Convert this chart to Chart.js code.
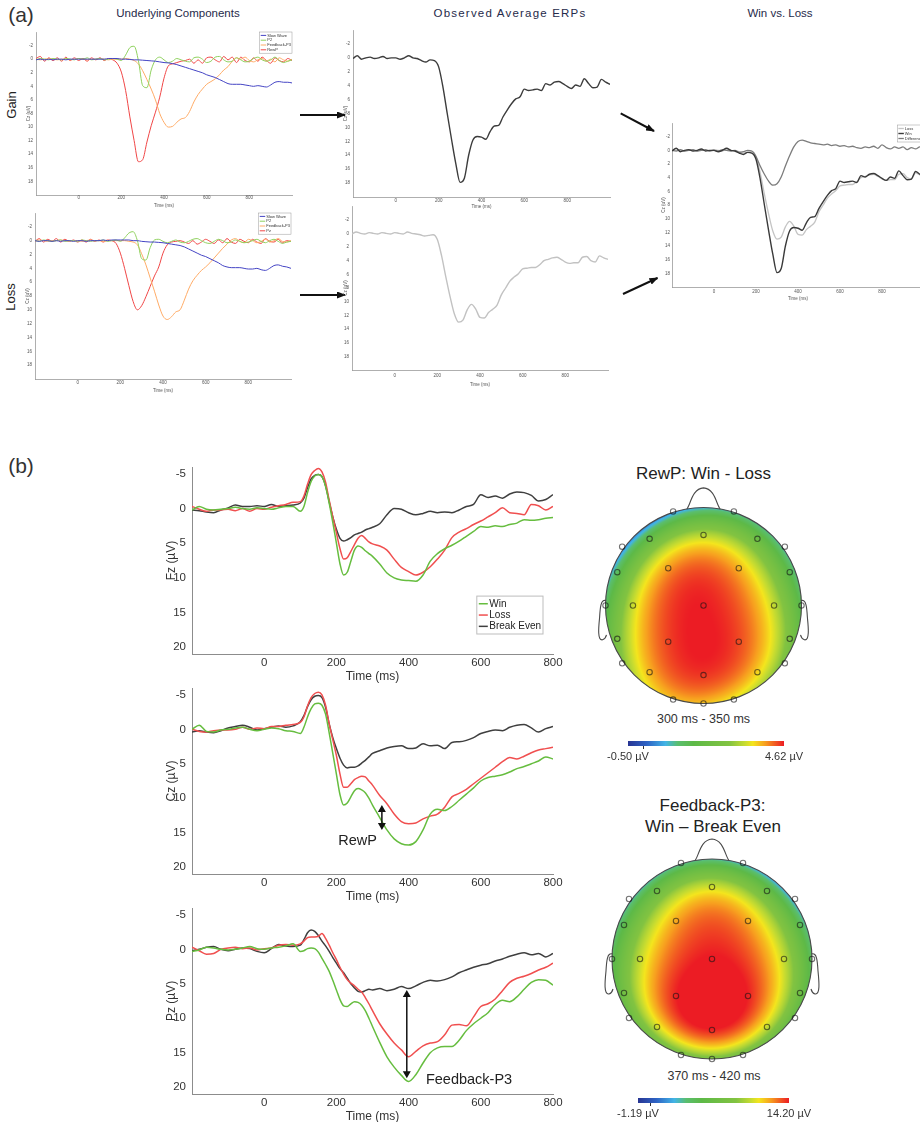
<!DOCTYPE html>
<html>
<head>
<meta charset="utf-8">
<title>Reward positivity and feedback-P3</title>
<script src="https://cdn.jsdelivr.net/npm/chart.js@4.4.1/dist/chart.umd.min.js"></script>
<style>
  html, body { margin: 0; padding: 0; width: 920px; height: 1122px; overflow: hidden; background: #fff; }
  body { position: relative; font-family: 'Liberation Sans', Arial, sans-serif; color: #222; }
  canvas { position: absolute; }
  .lbl { position: absolute; white-space: nowrap; transform: translate(-50%, -50%); line-height: 1; }
  .rot { transform: translate(-50%, -50%) rotate(-90deg); }
  .panel { font-family: 'Liberation Sans Narrow', 'Liberation Sans', sans-serif; font-size: 21px; color: #333; }
  .head { font-size: 11.5px; color: #262a4a; }
  .topo { font-size: 17px; color: #222; }
  .win { font-size: 12.5px; color: #333; }
</style>
</head>
<body>
<div class="lbl panel" style="left:21px;top:14px">(a)</div>
<div class="lbl head" style="left:178px;top:14px">Underlying Components</div>
<div class="lbl head" style="left:510px;top:14px;letter-spacing:1.2px">Observed Average ERPs</div>
<div class="lbl head" style="left:780px;top:14px">Win vs. Loss</div>
<div class="lbl rot" style="left:11px;top:105px;font-size:13px">Gain</div>
<div class="lbl rot" style="left:10px;top:297px;font-size:13px">Loss</div>
<div class="lbl panel" style="left:21px;top:465px">(b)</div>
<div class="lbl topo" style="left:703.5px;top:473px">RewP: Win - Loss</div>
<div class="lbl win" style="left:703.5px;top:719px">300 ms - 350 ms</div>
<div class="lbl topo" style="left:712.5px;top:805px">Feedback-P3:</div>
<div class="lbl topo" style="left:713px;top:826px">Win – Break Even</div>
<div class="lbl win" style="left:714px;top:1076px">370 ms - 420 ms</div>

<svg width="920" height="420" style="position:absolute;left:0;top:0">
  <defs>
    <marker id="ah" markerWidth="9" markerHeight="7" refX="8" refY="3.5" orient="auto" markerUnits="userSpaceOnUse">
      <path d="M0,0 L9,3.5 L0,7 z" fill="#111"/>
    </marker>
  </defs>
  <line x1="300" y1="115" x2="345" y2="115" stroke="#111" stroke-width="2" marker-end="url(#ah)"/>
  <line x1="300" y1="295" x2="345" y2="295" stroke="#111" stroke-width="2" marker-end="url(#ah)"/>
  <line x1="620.7" y1="113.3" x2="654" y2="131" stroke="#111" stroke-width="2" marker-end="url(#ah)"/>
  <line x1="623" y1="294" x2="657.5" y2="278" stroke="#111" stroke-width="2" marker-end="url(#ah)"/>
</svg>

<canvas id="a1"></canvas>
<canvas id="a2"></canvas>
<canvas id="a3"></canvas>
<canvas id="a4"></canvas>
<canvas id="a5"></canvas>
<canvas id="b1"></canvas>
<canvas id="b2"></canvas>
<canvas id="b3"></canvas>
<canvas id="topo1"></canvas>
<canvas id="topo2"></canvas>
<canvas id="cbar1"></canvas>
<canvas id="cbar2"></canvas>

<script>
// ---- time bases (ms) ---------------------------------------------------
const tA = [-200,-180,-160,-140,-120,-100,-80,-60,-40,-20,
  0,20,40,60,80,100,120,140,160,180,
  200,220,240,260,280,300,320,340,360,380,
  400,420,440,460,480,500,520,540,560,580,
  600,620,640,660,680,700,720,740,760,780,
  800,820,840,860,880,900,920,940,960,980,
  1000];
const tB = [-200,-180,-160,-140,-120,-100,-80,-60,-40,-20,
  0,20,40,60,80,100,
  110,120,130,140,150,160,170,180,190,200,
  210,220,230,240,250,260,270,280,290,300,
  320,340,360,380,400,420,440,460,480,500,
  520,540,560,580,600,620,640,660,680,700,
  720,740,760,780,800];

const tickTimeA = [0, 200, 400, 600, 800];
const tickVoltA = [-2, 0, 2, 4, 6, 8, 10, 12, 14, 16, 18];
const tickTimeB = [0, 200, 400, 600, 800];
const tickVoltB = [-5, 0, 5, 10, 15, 20];

// ---- simulated components, gain ----------------------------------------
const gainSlow = [0.1,0.0,0.1,0.0,0.1,0.0,0.0,0.1,0.0,0.0,
  0.0,0.0,0.0,0.0,0.0,0.0,0.0,-0.1,-0.1,-0.1,
  0.0,0.0,0.05,0.1,0.1,0.15,0.2,0.25,0.3,0.4,
  0.5,0.55,0.65,0.8,1.0,1.2,1.4,1.6,1.8,2.0,
  2.3,2.5,2.7,3.0,3.3,3.6,3.7,3.7,3.7,3.8,
  3.9,4.0,3.9,4.0,4.1,3.8,3.4,3.3,3.4,3.4,
  3.5];
const gainP2 = [0.1,-0.1,0.0,0.1,-0.1,0.0,0.1,-0.1,0.0,0.1,
  -0.1,0.0,-0.2,0.1,0.0,-0.1,0.1,0.0,-0.1,0.0,
  0.2,-0.6,-1.7,-1.9,0.2,3.9,4.2,1.6,0.1,-0.3,
  0.1,0.5,0.3,-0.1,0.1,0.3,0.4,-0.2,-0.3,0.0,
  0.5,0.3,-0.3,-0.4,0.1,0.4,0.3,-0.2,0.1,0.4,
  0.3,-0.1,-0.3,0.1,0.3,0.1,-0.3,0.2,0.5,0.3,
  0.1];
const gainFbP3 = [0.0,0.1,0.0,-0.1,0.0,0.1,0.0,0.0,0.1,0.0,
  -0.1,0.0,0.1,0.0,0.0,-0.1,0.0,0.1,0.0,0.0,
  0.0,-0.1,0.0,0.2,0.7,1.7,3.0,4.4,6.0,8.0,
  9.3,10.0,9.9,9.3,8.8,8.6,7.7,6.3,5.2,4.4,
  3.7,3.3,2.9,2.3,1.6,1.1,0.3,-0.2,0.0,-0.3,
  0.2,0.4,0.1,-0.1,0.3,0.0,0.4,-0.2,0.1,0.3,
  0.0];
const gainRewP = [-0.1,-0.4,0.3,-0.2,0.2,-0.2,0.3,-0.3,0.2,-0.2,
  0.2,-0.1,0.3,-0.2,0.1,-0.2,0.2,-0.1,0.1,0.6,
  1.9,4.6,8.5,12.0,15.1,14.8,12.2,9.8,7.8,5.6,
  2.8,1.0,0.7,0.5,0.3,0.2,0.0,0.6,0.1,0.6,
  -0.2,-0.3,0.1,0.4,-0.4,0.1,-0.3,0.5,-0.3,0.2,
  0.4,-0.2,0.3,-0.3,0.2,0.6,-0.2,0.2,0.4,-0.1,
  0.2];

// ---- simulated components, loss ----------------------------------------
const lossSlow = [0.0,0.1,0.0,0.0,0.1,0.0,0.1,0.0,0.0,0.1,
  0.0,0.0,0.1,0.0,0.0,0.0,-0.1,0.0,-0.1,-0.1,
  -0.1,-0.1,-0.1,0.0,0.0,0.1,0.15,0.2,0.2,0.25,
  0.3,0.4,0.5,0.6,0.7,0.9,1.2,1.5,1.8,2.1,
  2.3,2.6,2.9,3.2,3.6,3.8,3.9,3.9,3.9,4.0,
  4.1,4.1,4.0,4.2,4.3,4.0,3.6,3.5,3.7,3.8,
  4.0];
const lossP2 = [0.0,0.1,-0.1,0.0,0.1,0.0,-0.1,0.1,0.0,0.0,
  0.1,-0.1,0.0,0.1,0.0,0.0,-0.1,0.1,0.0,-0.1,
  0.1,-0.4,-1.1,-1.3,0.0,2.6,2.8,1.0,-0.1,-0.2,
  0.1,0.3,0.1,-0.1,0.2,0.3,0.1,-0.2,-0.3,0.0,
  0.3,0.4,0.1,-0.2,0.0,0.3,0.2,-0.1,0.1,0.3,
  0.2,0.0,-0.2,0.1,0.3,0.0,-0.2,0.1,0.4,0.2,
  0.1];
const lossFbP3 = [0.0,-0.1,0.0,0.1,0.0,0.0,-0.1,0.0,0.1,0.0,
  0.0,0.1,0.0,-0.1,0.0,0.0,0.1,0.0,0.0,0.0,
  0.0,0.0,0.1,0.2,0.6,1.9,3.5,5.4,7.3,9.3,
  10.9,11.4,11.0,10.3,10.0,8.6,7.0,5.8,5.0,4.3,
  3.8,3.2,2.5,1.8,1.1,0.5,-0.1,-0.3,0.1,0.3,
  -0.2,0.0,0.3,0.1,-0.2,0.2,0.0,-0.3,0.1,0.2,
  0.0];
const lossPz = [0.1,-0.3,0.2,-0.2,0.1,-0.3,0.2,-0.2,0.1,-0.1,
  0.2,-0.1,0.2,-0.2,0.1,-0.1,0.2,-0.1,0.0,0.4,
  1.8,4.0,6.5,8.8,10.0,9.4,8.1,6.6,5.1,3.8,
  1.8,0.6,0.2,0.1,0.0,0.2,0.4,0.0,0.5,0.2,
  -0.2,0.1,0.4,-0.1,0.3,-0.3,0.2,0.4,-0.2,0.1,
  0.3,-0.2,0.2,0.4,-0.3,0.1,0.2,-0.2,0.3,0.0,
  0.1];

// ---- observed averages at Cz -------------------------------------------
const avgWin = [0.1,-0.3,0.2,0.0,-0.1,0.1,0.0,-0.2,0.1,0.0,
  0.0,0.2,0.0,-0.3,0.0,0.1,0.4,0.6,0.3,0.4,
  1.3,4.2,8.0,11.7,15.2,17.9,17.3,14.0,11.8,11.3,
  11.4,11.7,10.6,9.8,9.7,8.5,7.5,6.6,5.9,5.6,
  4.5,4.7,4.6,4.5,4.7,3.7,3.9,3.5,3.4,3.7,
  4.1,4.4,3.9,4.1,3.0,3.7,4.3,4.2,3.1,3.5,
  3.8];
const avgLoss = [0.1,-0.2,0.0,0.1,-0.1,0.0,0.1,-0.1,0.0,0.1,
  -0.1,0.0,0.1,-0.2,0.0,0.1,0.2,0.4,0.3,0.2,
  0.9,3.3,6.4,9.3,11.8,13.0,12.7,11.2,10.4,11.1,
  12.3,12.4,11.6,11.1,10.5,9.0,8.0,7.0,6.4,5.9,
  5.2,5.1,5.0,5.0,4.6,4.0,3.8,3.6,3.5,3.8,
  4.2,4.4,4.3,4.3,3.5,3.4,4.0,4.2,3.3,3.6,
  3.8];
const avgDiff = [0.0,0.1,-0.1,0.1,0.0,-0.1,0.1,0.0,-0.1,0.1,
  0.0,0.1,-0.1,0.0,0.1,0.0,0.3,0.2,0.0,0.1,
  0.9,2.3,3.5,4.5,5.1,4.9,3.9,2.3,0.8,-0.5,
  -1.3,-1.5,-1.3,-1.1,-1.0,-0.9,-0.8,-0.9,-0.7,-0.8,
  -0.6,-0.7,-0.5,-0.6,-0.4,-0.3,-0.5,-0.4,-0.6,-0.3,
  -0.8,-0.4,-0.2,-0.5,-0.3,-0.5,-0.1,-0.4,-0.2,-0.5,
  -0.3];

// ---- grand averages, panel b -------------------------------------------
const fzWin = [0.2,-0.3,0.1,0.2,0.1,0.0,-0.2,0.0,0.1,-0.1,
  0.0,0.1,-0.1,-0.3,-0.3,0.4,
  -0.3,-2.3,-3.9,-4.7,-4.9,-4.6,-3.2,-0.8,2.0,5.0,
  8.0,9.6,9.2,7.6,6.0,5.4,5.6,6.1,6.5,6.9,
  8.0,9.3,10.0,10.3,10.4,10.5,9.6,7.6,6.5,5.8,
  5.3,4.7,4.0,3.3,2.6,2.7,2.5,2.6,2.3,2.1,
  1.6,1.7,1.6,1.4,1.3];
const fzLoss = [-0.3,0.1,0.4,0.2,0.2,0.1,0.3,0.0,0.4,0.0,
  0.1,-0.2,-0.4,-0.6,-0.9,-1.0,
  -1.8,-3.5,-4.9,-5.5,-5.8,-5.3,-3.8,-1.2,1.2,3.5,
  5.8,7.3,7.1,6.2,5.2,4.3,3.9,4.3,4.8,5.1,
  5.4,6.0,7.3,8.5,9.1,9.6,9.2,8.4,7.3,6.0,
  4.2,3.4,2.9,2.3,1.8,1.2,0.6,-0.1,0.6,0.7,
  0.9,-0.6,-0.4,0.2,-0.3];
const fzEven = [0.2,0.3,0.5,0.6,0.2,-0.1,-0.5,-0.3,-0.3,-0.4,
  -0.3,-0.6,-0.3,-0.4,-0.5,-0.8,
  -1.5,-3.0,-4.3,-4.8,-4.9,-4.6,-3.3,-1.0,1.2,3.0,
  4.3,4.7,4.5,4.2,3.8,3.6,3.4,3.1,2.9,2.7,
  2.2,0.9,0.0,0.1,0.6,0.9,0.7,0.4,0.6,0.5,
  0.6,0.2,-0.3,-0.6,-2.0,-1.6,-1.8,-1.5,-2.1,-2.4,
  -2.3,-1.9,-1.1,-1.3,-2.0];

const czWin = [0.0,-0.6,0.3,0.4,0.1,0.0,-0.2,-0.3,0.0,0.2,
  0.0,-0.2,-0.1,0.2,0.3,0.6,
  -0.3,-1.8,-3.0,-3.7,-3.8,-3.5,-2.2,0.5,3.5,6.5,
  9.5,11.0,10.7,9.8,8.9,8.6,8.8,9.2,10.0,11.0,
  12.8,14.6,15.9,16.6,16.8,16.3,14.6,12.3,11.6,11.8,
  11.2,10.3,9.4,8.5,7.5,7.0,6.8,6.6,6.2,5.7,
  5.4,5.0,4.6,4.0,4.3];
const czLoss = [0.0,0.3,0.4,0.2,0.1,0.1,0.0,-0.3,0.0,-0.2,
  -0.1,-0.4,-0.4,-0.6,-0.7,-1.0,
  -1.8,-3.4,-4.6,-5.2,-5.4,-5.0,-3.5,-0.8,1.5,3.8,
  6.5,8.4,8.4,7.9,7.3,7.0,6.8,6.9,7.5,8.1,
  9.6,10.8,12.3,13.4,13.7,13.6,13.0,12.6,12.3,11.3,
  9.8,9.3,8.7,7.9,7.1,6.3,5.5,4.7,4.1,4.3,
  3.9,3.4,3.0,2.8,2.6];
const czEven = [0.4,0.2,0.4,0.5,0.2,-0.2,-0.4,-0.6,-0.3,0.1,
  -0.1,-0.3,-0.5,-0.3,-0.5,-1.1,
  -2.0,-3.3,-4.3,-4.8,-4.9,-4.6,-3.2,-0.8,1.2,2.8,
  4.2,5.2,5.6,5.5,5.5,5.3,4.9,4.5,4.0,3.5,
  3.1,2.7,2.5,2.4,2.8,2.7,2.1,2.4,2.3,2.8,
  1.9,1.8,1.6,1.2,0.6,0.3,0.1,0.2,-0.3,-0.6,
  -0.7,-0.2,0.4,-0.1,-0.4];

const pzWin = [0.3,0.1,-0.3,-0.2,0.0,0.1,0.0,-0.2,-0.4,-0.1,
  0.0,-0.2,-0.3,-0.5,-0.8,0.3,
  0.2,-0.1,-0.2,-0.1,0.4,1.3,2.2,3.2,4.5,5.9,
  7.3,8.2,8.3,7.9,7.6,7.7,8.1,8.9,10.0,11.2,
  13.5,15.6,17.1,18.3,19.2,18.2,16.5,15.0,14.3,14.1,
  14.1,13.2,11.8,10.8,10.0,9.2,8.0,7.4,7.6,6.9,
  5.8,4.8,4.4,4.5,5.2];
const pzLoss = [-0.3,0.2,0.7,0.6,0.0,-0.2,-0.3,-0.1,-0.2,0.1,
  -0.1,-0.2,-0.6,-0.7,-0.6,-0.8,
  -1.2,-1.7,-1.8,-1.8,-1.9,-2.3,-1.6,-0.6,0.5,1.5,
  2.6,3.6,4.4,4.9,5.3,5.8,6.2,7.0,7.9,8.9,
  10.8,12.3,13.6,14.6,15.6,14.8,14.0,13.6,13.4,12.4,
  11.0,10.9,11.1,9.8,8.3,7.9,7.2,6.0,4.8,4.2,
  3.9,3.5,3.0,2.6,2.0];
const pzEven = [0.2,0.0,-0.3,-0.4,0.0,0.2,0.0,-0.2,-0.1,0.3,
  0.5,-0.1,-0.7,-0.5,-0.4,-0.6,
  -1.4,-2.4,-2.8,-2.6,-2.0,-1.2,-0.5,0.3,1.2,2.0,
  2.8,3.4,4.2,5.0,5.6,6.1,6.2,6.0,5.8,5.9,
  5.7,6.0,5.8,5.4,5.7,5.3,4.8,4.5,4.6,4.4,
  4.0,3.4,3.0,2.6,2.3,2.1,1.7,1.4,1.0,0.7,
  0.5,0.8,0.6,1.1,0.6];

// ---- scalp maps: electrode montage (unit head, +y = posterior) ---------
const montage = [
  [-0.31,-0.96],[0.31,-0.96],
  [-0.55,-0.68],[0,-0.72],[0.55,-0.68],
  [-0.83,-0.60],[0.83,-0.60],
  [-0.88,-0.34],[-0.36,-0.38],[0.36,-0.38],[0.88,-0.34],
  [-1.0,0],[-0.72,0],[0,0],[0.72,0],[1.0,0],
  [-0.88,0.34],[-0.36,0.37],[0.36,0.37],[0.88,0.34],
  [-0.83,0.59],[0.83,0.59],
  [-0.55,0.68],[0,0.71],[0.55,0.68],
  [-0.31,0.96],[0,1.0],[0.31,0.96]
];
const topoRewP = [0.40,0.90, 1.70,3.40,1.80, 0.15,0.80,
  1.40,3.95,3.90,1.55, 1.40,3.45,4.62,3.50,1.50,
  2.20,4.45,4.25,2.30, 2.90,2.60, 4.05,4.45,3.90, 3.70,3.80,3.45];
const topoP3 = [3.00,2.40, 5.74,11.12,5.74, 2.50,1.80,
  4.97,12.35,12.05,4.66, 4.97,10.81,14.20,10.81,4.66,
  5.74,13.89,13.89,5.74, 6.51,5.74, 11.43,13.74,11.12, 7.27,8.04,7.27];
const rangeRewP = [-0.50, 4.62];
const rangeP3 = [-1.19, 14.20];

// ---- shared style -------------------------------------------------------
const FONT = "'Liberation Sans', Arial, sans-serif";
Chart.defaults.font.family = FONT;
Chart.defaults.color = '#333';

const cmapStops = [
  [0.00, [40, 53, 147]],
  [0.12, [45, 98, 196]],
  [0.24, [66, 180, 230]],
  [0.32, [90, 190, 110]],
  [0.42, [93, 185, 71]],
  [0.65, [130, 195, 65]],
  [0.75, [200, 220, 48]],
  [0.80, [244, 229, 29]],
  [0.88, [247, 158, 31]],
  [1.00, [236, 28, 36]]
];
function colorAt(f) {
  f = Math.min(1, Math.max(0, f));
  for (let i = 1; i < cmapStops.length; i++) {
    const [f1, c1] = cmapStops[i];
    if (f <= f1) {
      const [f0, c0] = cmapStops[i - 1];
      const u = (f - f0) / (f1 - f0);
      return c0.map((c, k) => Math.round(c + (c1[k] - c) * u));
    }
  }
  return cmapStops[cmapStops.length - 1][1];
}

// boxed legend inside the plot area, MATLAB style
const boxLegend = {
  id: 'boxLegend',
  afterDatasetsDraw(chart, args, o) {
    if (!o || !o.display) return;
    const {ctx, chartArea: a} = chart;
    const sets = chart.data.datasets;
    ctx.save();
    ctx.font = o.size + 'px ' + FONT;
    const tw = Math.max(...sets.map(d => ctx.measureText(d.label).width));
    const w = o.pad * 2 + o.line + o.gap + tw;
    const h = o.pad * 2 + sets.length * o.row;
    const x = a.right - o.right - w;
    const y = o.bottom != null ? a.bottom - o.bottom - h : a.top + o.top;
    ctx.fillStyle = '#fff';
    ctx.fillRect(x, y, w, h);
    ctx.strokeStyle = o.border;
    ctx.lineWidth = o.borderWidth;
    ctx.strokeRect(x, y, w, h);
    ctx.textBaseline = 'middle';
    sets.forEach((d, i) => {
      const cy = y + o.pad + o.row * (i + 0.5);
      ctx.strokeStyle = d.borderColor;
      ctx.lineWidth = d.borderWidth;
      ctx.beginPath();
      ctx.moveTo(x + o.pad, cy);
      ctx.lineTo(x + o.pad + o.line, cy);
      ctx.stroke();
      ctx.fillStyle = o.color;
      ctx.fillText(d.label, x + o.pad + o.line + o.gap, cy);
    });
    ctx.restore();
  }
};

// double-headed arrow between two conditions plus its component name
const erpArrow = {
  id: 'erpArrow',
  afterDatasetsDraw(chart, args, o) {
    if (!o || !o.text) return;
    const {ctx, scales: {x, y}} = chart;
    const px = x.getPixelForValue(o.at);
    const y1 = y.getPixelForValue(o.from), y2 = y.getPixelForValue(o.to);
    const hl = 7, hw = 4;
    ctx.save();
    ctx.strokeStyle = '#111';
    ctx.fillStyle = '#111';
    ctx.lineWidth = 1.5;
    ctx.beginPath();
    ctx.moveTo(px, y1 + hl - 1);
    ctx.lineTo(px, y2 - hl + 1);
    ctx.stroke();
    ctx.beginPath();
    ctx.moveTo(px, y1); ctx.lineTo(px - hw, y1 + hl); ctx.lineTo(px + hw, y1 + hl); ctx.closePath();
    ctx.moveTo(px, y2); ctx.lineTo(px - hw, y2 - hl); ctx.lineTo(px + hw, y2 - hl); ctx.closePath();
    ctx.fill();
    ctx.font = o.size + 'px ' + FONT;
    ctx.fillStyle = '#222';
    ctx.textBaseline = 'middle';
    ctx.fillText(o.text, x.getPixelForValue(o.tx), y.getPixelForValue(o.ty));
    ctx.restore();
  }
};

function series(label, color, t, v, width, order) {
  return {
    label, borderColor: color, borderWidth: width, pointRadius: 0,
    cubicInterpolationMode: 'monotone', order: order || 0,
    data: t.map((x, i) => ({x, y: v[i]}))
  };
}

// ERP line plot with its plot area pinned to box (page pixels)
function erpChart(id, box, ax, datasets, extra) {
  const cv = document.getElementById(id);
  cv.width = ax.yW + (box.r - box.l) + ax.padR;
  cv.height = ax.padT + (box.b - box.t) + ax.xH;
  cv.style.left = (box.l - ax.yW) + 'px';
  cv.style.top = (box.t - ax.padT) + 'px';
  const tickFont = {size: ax.fs};
  const titleFont = {size: ax.tfs || ax.fs};
  return new Chart(cv, {
    type: 'line',
    data: {datasets},
    options: {
      responsive: false, animation: false, events: [],
      layout: {padding: {left: 0, top: ax.padT, right: ax.padR, bottom: 0}, autoPadding: false},
      plugins: Object.assign({legend: {display: false}, tooltip: {enabled: false}}, extra),
      scales: {
        x: {
          type: 'linear', min: ax.xMin, max: ax.xMax,
          afterBuildTicks: s => { s.ticks = ax.xTicks.map(value => ({value})); },
          afterFit: s => { s.height = ax.xH; s.paddingLeft = 0; s.paddingRight = 0; },
          grid: {display: false, drawTicks: false},
          border: {display: true, color: ax.axisColor, width: ax.axisW},
          ticks: {font: tickFont, color: ax.tc, padding: ax.xPad, autoSkip: false, maxRotation: 0, callback: v => String(v)},
          title: {display: true, text: 'Time (ms)', font: titleFont, color: ax.tc, padding: {top: 0, bottom: 0}}
        },
        y: {
          type: 'linear', reverse: true, min: ax.yMin, max: ax.yMax,
          afterBuildTicks: s => { s.ticks = ax.yTicks.map(value => ({value})); },
          afterFit: s => { s.width = ax.yW; s.paddingTop = 0; s.paddingBottom = 0; },
          grid: {display: false, drawTicks: false},
          border: {display: true, color: ax.axisColor, width: ax.axisW},
          ticks: {font: tickFont, color: ax.tc, padding: ax.yPad, autoSkip: false, callback: v => String(v)},
          title: {display: true, text: ax.yTitle, font: titleFont, color: ax.tc, padding: {top: ax.yTitlePad, bottom: 0}}
        }
      }
    },
    plugins: [boxLegend, erpArrow]
  });
}

// ---- panel (a) ----------------------------------------------------------
const axA = {xMin: -200, xMax: 1000, yMin: -4, yMax: 20, xTicks: tickTimeA, yTicks: tickVoltA,
  fs: 4.5, tc: '#555', axisColor: '#9a9a9a', axisW: 0.8, yTitle: 'Cz (uV)', yPad: 3,
  yW: 14, xH: 13, padT: 3, padR: 4, xPad: 0.5, yTitlePad: 4.5};
const compColors = {slow: '#4444c4', p2: '#8fd15e', fb: '#ffab66', rew: '#f04646'};
const legA = {display: true, right: 0, top: 0, row: 4.8, size: 4, pad: 1, line: 5.5, gap: 1,
  border: '#999', borderWidth: 0.5, color: '#333'};

erpChart('a1', {l: 36, t: 32, r: 292, b: 195}, axA, [
  series('Slow Wave', compColors.slow, tA, gainSlow, 1),
  series('P2', compColors.p2, tA, gainP2, 1),
  series('Feedback-P3', compColors.fb, tA, gainFbP3, 1),
  series('RewP', compColors.rew, tA, gainRewP, 1)
], {boxLegend: legA});

erpChart('a2', {l: 35, t: 213, r: 291, b: 379}, Object.assign({}, axA, {xH: 14, xPad: 1.3}), [
  series('Slow Wave', compColors.slow, tA, lossSlow, 1),
  series('P2', compColors.p2, tA, lossP2, 1),
  series('Feedback-P3', compColors.fb, tA, lossFbP3, 1),
  series('Pz', compColors.rew, tA, lossPz, 1)
], {boxLegend: legA});

erpChart('a3', {l: 353, t: 30, r: 610, b: 197}, Object.assign({}, axA, {xH: 12, xPad: 1.3, yTitlePad: 4}), [
  series('Win', '#3c3c3c', tA, avgWin, 1.4)
]);

erpChart('a4', {l: 352, t: 206, r: 608, b: 370}, Object.assign({}, axA, {yW: 13, xH: 17, xPad: 3, yTitlePad: 4}), [
  series('Loss', '#c2c2c2', tA, avgLoss, 1.4)
]);

erpChart('a5', {l: 672, t: 123, r: 924, b: 287}, Object.assign({}, axA, {yW: 16, xH: 14, xPad: 2, yPad: 2, yTitlePad: 4.6}), [
  series('Loss', '#c4c4c4', tA, avgLoss, 1.3, 3),
  series('Win', '#3a3a3a', tA, avgWin, 1.4, 1),
  series('Difference', '#7c7c7c', tA, avgDiff, 1.3, 2)
], {boxLegend: Object.assign({}, legA, {top: 2, row: 5})});

// ---- panel (b) ----------------------------------------------------------
const axB = {xMin: -200, xMax: 800, yMin: -6, yMax: 21, xTicks: tickTimeB, yTicks: tickVoltB,
  fs: 11.5, tfs: 12, tc: '#333', axisColor: '#8c8c8c', axisW: 1, yPad: 6,
  yW: 28, xH: 30, padT: 8, padR: 14, xPad: 1.5, yTitlePad: 0};
const condColors = {win: '#66bd3f', loss: '#f04f4f', even: '#3f3f3f'};
const condSets = (w, l, e) => [
  series('Win', condColors.win, tB, w, 1.5),
  series('Loss', condColors.loss, tB, l, 1.5),
  series('Break Even', condColors.even, tB, e, 1.5)
];

erpChart('b1', {l: 192, t: 467, r: 553, b: 654}, Object.assign({}, axB, {yTitle: 'Fz (µV)'}),
  condSets(fzWin, fzLoss, fzEven),
  {boxLegend: {display: true, right: 10, bottom: 20, row: 11.3, size: 10, pad: 2, line: 9, gap: 1.5,
    border: '#bdbdbd', borderWidth: 1, color: '#222'}});

erpChart('b2', {l: 192, t: 688, r: 553, b: 874}, Object.assign({}, axB, {yTitle: 'Cz (µV)'}),
  condSets(czWin, czLoss, czEven),
  {erpArrow: {at: 326, from: 11.0, to: 14.6, text: 'RewP', tx: 205, ty: 16.2, size: 14.5}});

erpChart('b3', {l: 192, t: 908, r: 553, b: 1094}, Object.assign({}, axB, {yTitle: 'Pz (µV)'}),
  condSets(pzWin, pzLoss, pzEven),
  {erpArrow: {at: 395, from: 5.9, to: 18.7, text: 'Feedback-P3', tx: 448, ty: 18.9, size: 14.5}});

// ---- scalp maps -----------------------------------------------------------
function solveLinear(A, b) {
  const n = b.length;
  A = A.map(r => r.slice()); b = b.slice();
  for (let c = 0; c < n; c++) {
    let piv = c;
    for (let r = c + 1; r < n; r++) if (Math.abs(A[r][c]) > Math.abs(A[piv][c])) piv = r;
    [A[c], A[piv]] = [A[piv], A[c]];
    [b[c], b[piv]] = [b[piv], b[c]];
    for (let r = c + 1; r < n; r++) {
      const f = A[r][c] / A[c][c];
      for (let k = c; k < n; k++) A[r][k] -= f * A[c][k];
      b[r] -= f * b[c];
    }
  }
  const w = new Array(n).fill(0);
  for (let r = n - 1; r >= 0; r--) {
    let s = b[r];
    for (let k = r + 1; k < n; k++) s -= A[r][k] * w[k];
    w[r] = s / A[r][r];
  }
  return w;
}

// smooth surface: least-squares quartic in (x, y) through the electrode values
const basis = (x, y) => {
  const x2 = x * x, y2 = y * y;
  return [1, x, y, x2, x * y, y2, x2 * x, x2 * y, x * y2, y2 * y,
    x2 * x2, x2 * x * y, x2 * y2, x * y2 * y, y2 * y2];
};
function fitSurface(pts) {
  const m = basis(0, 0).length;
  const M = Array.from({length: m}, () => new Array(m).fill(0));
  const r = new Array(m).fill(0);
  pts.forEach(p => {
    const f = basis(p.x, p.y);
    for (let i = 0; i < m; i++) {
      r[i] += f[i] * p.v;
      for (let j = 0; j < m; j++) M[i][j] += f[i] * f[j];
    }
  });
  const c = solveLinear(M, r);
  return (x, y) => basis(x, y).reduce((s, f, i) => s + f * c[i], 0);
}

const nosePath = [[-0.17,-0.985],[-0.13,-1.03],[-0.12,-1.19],[0,-1.2],[0.12,-1.19],[0.13,-1.03],[0.17,-0.985]];
const earPath = [[-0.995,-0.05],[-1.05,-0.07],[-1.055,0.03],[-1.06,0.12],[-1.07,0.22],[-1.085,0.36],[-1.03,0.35],[-1.0,0.34],[-0.995,0.32],[-0.99,0.3]];

const topoField = {
  id: 'topoField',
  beforeDatasetsDraw(chart, args, o) {
    const {ctx, chartArea: a, scales: {x, y}} = chart;
    const surf = fitSurface(chart.data.datasets[0].data);
    const W = Math.round(a.right - a.left), H = Math.round(a.bottom - a.top);
    const rpx = x.getPixelForValue(1) - x.getPixelForValue(0);
    const off = document.createElement('canvas');
    off.width = W; off.height = H;
    const octx = off.getContext('2d');
    const img = octx.createImageData(W, H);
    for (let j = 0; j < H; j++) {
      const vy = y.getValueForPixel(a.top + j + 0.5);
      for (let i = 0; i < W; i++) {
        const vx = x.getValueForPixel(a.left + i + 0.5);
        const rr = Math.hypot(vx, vy);
        const alpha = Math.min(1, Math.max(0, (1 - rr) * rpx + 0.5));
        if (alpha <= 0) continue;
        const c = colorAt((surf(vx, vy) - o.lo) / (o.hi - o.lo));
        const idx = (j * W + i) * 4;
        img.data[idx] = c[0]; img.data[idx + 1] = c[1]; img.data[idx + 2] = c[2];
        img.data[idx + 3] = Math.round(alpha * 255);
      }
    }
    octx.putImageData(img, 0, 0);
    ctx.drawImage(off, a.left, a.top);

    // head outline, nose and ears
    const P = (u, v) => [x.getPixelForValue(u), y.getPixelForValue(v)];
    const curve = (path, sx) => {
      ctx.moveTo(...P(path[0][0] * sx, path[0][1]));
      for (let i = 1; i + 2 < path.length; i += 3) {
        ctx.bezierCurveTo(...P(path[i][0] * sx, path[i][1]), ...P(path[i + 1][0] * sx, path[i + 1][1]), ...P(path[i + 2][0] * sx, path[i + 2][1]));
      }
    };
    ctx.save();
    ctx.strokeStyle = '#4a4a4a';
    ctx.lineWidth = 1.1;
    ctx.beginPath();
    ctx.arc(...P(0, 0), rpx, 0, Math.PI * 2);
    ctx.stroke();
    ctx.beginPath();
    curve(nosePath, 1);
    curve(earPath, 1);
    curve(earPath, -1);
    ctx.stroke();
    ctx.restore();
  }
};

function topoChart(id, cx, cy, r, values, range) {
  const span = 1.25, side = Math.round(2 * span * r);
  const cv = document.getElementById(id);
  cv.width = side; cv.height = side;
  cv.style.left = (cx - side / 2) + 'px';
  cv.style.top = (cy - side / 2) + 'px';
  return new Chart(cv, {
    type: 'scatter',
    data: {datasets: [{
      data: montage.map(([x, y], i) => ({x, y, v: values[i]})),
      pointRadius: 2.7, pointBorderWidth: 1.1,
      pointBorderColor: 'rgba(20,20,20,0.6)', pointBackgroundColor: 'rgba(0,0,0,0)'
    }]},
    options: {
      responsive: false, animation: false, events: [],
      layout: {padding: 0, autoPadding: false},
      plugins: {legend: {display: false}, tooltip: {enabled: false}, topoField: {lo: range[0], hi: range[1]}},
      scales: {
        x: {display: false, min: -span, max: span},
        y: {display: false, min: -span, max: span, reverse: true}
      }
    },
    plugins: [topoField]
  });
}

const colorbarFill = {
  id: 'colorbarFill',
  beforeDatasetsDraw(chart) {
    const {ctx, chartArea: a, scales: {x}} = chart;
    const g = ctx.createLinearGradient(a.left, 0, a.right, 0);
    cmapStops.forEach(([f, c]) => g.addColorStop(f, 'rgb(' + c.join(',') + ')'));
    ctx.save();
    ctx.fillStyle = g;
    ctx.fillRect(a.left, a.top, a.right - a.left, a.bottom - a.top);
    // zero mark under the bar
    const z = x.getPixelForValue(0);
    ctx.strokeStyle = '#333';
    ctx.lineWidth = 1;
    ctx.beginPath();
    ctx.moveTo(Math.round(z) + 0.5, a.bottom);
    ctx.lineTo(Math.round(z) + 0.5, a.bottom + 3);
    ctx.stroke();
    ctx.restore();
  }
};

function colorbarChart(id, bar, range) {
  const side = 40, xH = 22, padT = 2;
  const cv = document.getElementById(id);
  cv.width = (bar.r - bar.l) + 2 * side;
  cv.height = padT + bar.h + xH;
  cv.style.left = (bar.l - side) + 'px';
  cv.style.top = (bar.t - padT) + 'px';
  return new Chart(cv, {
    type: 'scatter',
    data: {datasets: []},
    options: {
      responsive: false, animation: false, events: [],
      layout: {padding: {left: side, right: side, top: padT, bottom: 0}, autoPadding: false},
      plugins: {legend: {display: false}, tooltip: {enabled: false}},
      scales: {
        x: {
          type: 'linear', min: range[0], max: range[1],
          afterBuildTicks: s => { s.ticks = range.map(value => ({value})); },
          afterFit: s => { s.height = xH; s.paddingLeft = 0; s.paddingRight = 0; },
          grid: {display: false, drawTicks: false},
          border: {display: false},
          ticks: {font: {size: 11}, color: '#333', padding: 4, autoSkip: false, maxRotation: 0,
            callback: v => v.toFixed(2) + ' µV'}
        },
        y: {display: false, min: 0, max: 1}
      }
    },
    plugins: [colorbarFill]
  });
}

topoChart('topo1', 703.5, 605, 98, topoRewP, rangeRewP);
topoChart('topo2', 712.3, 959, 100, topoP3, rangeP3);
colorbarChart('cbar1', {l: 628, r: 784, t: 741, h: 5}, rangeRewP);
colorbarChart('cbar2', {l: 638, r: 789, t: 1098, h: 5}, rangeP3);
</script>
</body>
</html>
